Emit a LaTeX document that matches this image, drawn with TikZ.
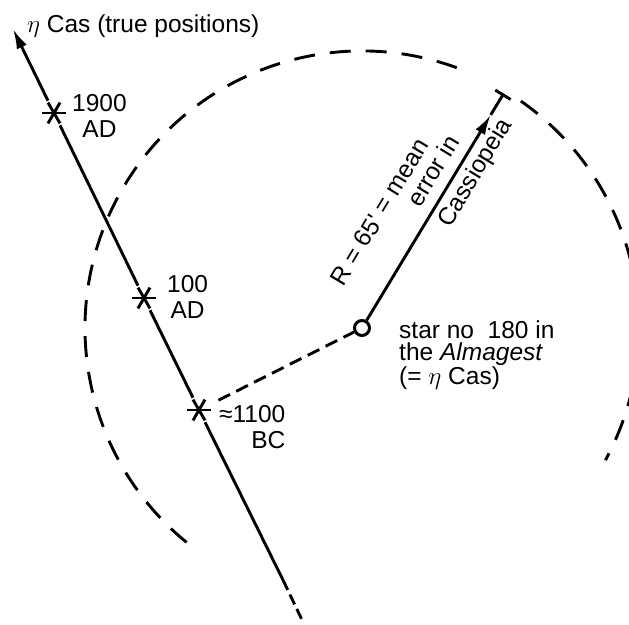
\documentclass[tikz,border=0pt]{standalone}
\usepackage{fontspec}
\setmainfont{Liberation Sans}
\usetikzlibrary{arrows.meta}

\begin{document}
\begin{tikzpicture}[x=1pt, y=1pt,
    every node/.style={inner sep=0pt, font=\fontsize{24.5}{25.5}\selectfont},
    stroke/.style={line width=2.9pt},
    head/.style={-{Latex[length=20pt,width=11pt]}},
    asterisk/.style={circle, minimum size=27pt, path picture={
        \foreach \a in {0,60,120}
          \draw[stroke, shift={(path picture bounding box.center)}] (\a:12) -- (\a+180:12);}},
    starcircle/.style={circle, draw, line width=3pt, minimum size=15pt},
    datelabel/.style={align=center, anchor=west},
    sloping/.style={rotate=58.86, anchor=base}]
    \useasboundingbox (0,0) rectangle (629,-624);

    % track of eta Cas
    \coordinate (tip) at (13,-29);
    \node[asterisk] (ad1900) at (54,-113) {};
    \node[asterisk] (ad100) at (144,-298) {};
    \node[asterisk] (bc1100) at (199,-410) {};
    \coordinate (solidend) at (283,-580);
    \coordinate (lineend) at (303,-622);
    \draw[stroke, head] (ad1900) -- (tip);
    \draw[stroke] (ad1900) -- (ad100) -- (bc1100) -- (solidend);
    \draw[stroke, dash pattern=on 11pt off 5pt] (solidend) -- (lineend);
    \node[anchor=base west] (title) at (27,-32) {$\eta$ Cas (true positions)};
    \node[datelabel] (l1900) at (72,-116) {1900\\AD};
    \node[datelabel] (l100) at (167,-297) {100\\AD};
    \node[datelabel, align=right] (l1100) at (219,-427) {≈1100\\BC};

    % Almagest position and error circle
    \node[starcircle] (star) at (362,-328) {};
    \draw[stroke, dash pattern=on 13pt off 7pt, shorten <=8pt] (bc1100) -- (star);
    \draw[stroke, dash pattern=on 21pt off 15pt] (star.center) ++(55:277) arc[start angle=55, end angle=-28.5, radius=277];
    \draw[stroke, dash pattern=on 21pt off 15pt] (star.center) ++(70:277) arc[start angle=70, end angle=233.6, radius=277];
    \node[align=left, anchor=west, font=\fontsize{24.5}{22}\selectfont] (starlabel) at (399,-355)
      {star no\ \ 180 in\\the \textit{Almagest}\\(= $\eta$ Cas)};

    % radius R
    \coordinate (rtip) at (490.7,-114.9);
    \coordinate (rend) at (503.7,-93.5);
    \draw[stroke, head] (star) -- (rtip);
    \draw[stroke, -{Bar[width=18pt]}] (rtip) -- (rend);
    \node[sloping] (rlab1) at (386.5,-216.5) {R = 65\textquotesingle{} = mean};
    \node[sloping] (rlab2) at (440.1,-175.4) {error in};
    \node[sloping] (rlab3) at (481.5,-176.5) {Cassiopeia};
\end{tikzpicture}
\end{document}
